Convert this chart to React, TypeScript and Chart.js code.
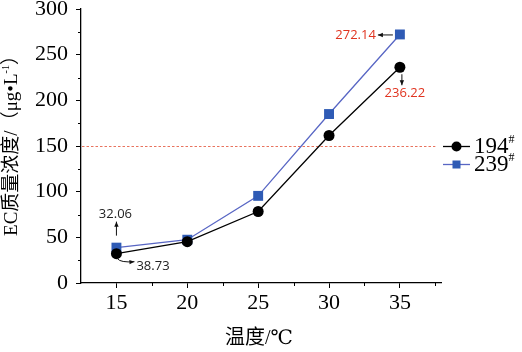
import { useEffect, useRef } from 'react';
import { Chart, registerables } from 'chart.js';
Chart.register(...registerables);

const temps = [15, 20, 25, 30, 35];
const s194 = [32.06, 45.2, 78.3, 161.5, 236.22];
const s239 = [38.73, 47.4, 95.4, 185.0, 272.14];
const xTicks = [15, 20, 25, 30, 35];
const xMinor = [17.5, 22.5, 27.5, 32.5, 37.5];
const yMinor = [25, 75, 125, 175, 225, 275];
const seriesNames = ['194', '239'];
const refLine = 150;

const SERIF = '"Liberation Serif", "Times New Roman", "DejaVu Serif", "Noto Sans CJK SC", serif';
const SANS = '"Open Sans", "Noto Sans", sans-serif';
const BLUE = '#2f5bb5';
const BLUE_LINE = '#5866c4';
const RED = '#e0331f';

function arrow(ctx: CanvasRenderingContext2D, x1: number, y1: number, x2: number, y2: number, cx?: number, cy?: number) {
  ctx.save();
  ctx.strokeStyle = '#111';
  ctx.fillStyle = '#111';
  ctx.lineWidth = 1;
  ctx.beginPath();
  ctx.moveTo(x1, y1);
  if (cx !== undefined && cy !== undefined) ctx.quadraticCurveTo(cx, cy, x2, y2);
  else ctx.lineTo(x2, y2);
  ctx.stroke();
  const fx = cx !== undefined ? cx : x1;
  const fy = cy !== undefined ? cy : y1;
  const a = Math.atan2(y2 - fy, x2 - fx);
  const L = 5, W = 2.2;
  ctx.beginPath();
  ctx.moveTo(x2, y2);
  ctx.lineTo(x2 - L * Math.cos(a) + W * Math.sin(a), y2 - L * Math.sin(a) - W * Math.cos(a));
  ctx.lineTo(x2 - L * Math.cos(a) - W * Math.sin(a), y2 - L * Math.sin(a) + W * Math.cos(a));
  ctx.closePath();
  ctx.fill();
  ctx.restore();
}

const deco = {
  id: 'deco',
  beforeDatasetsDraw(chart: any) {
    const { ctx, chartArea, scales } = chart;
    const x = scales.x, y = scales.y;
    ctx.save();
    ctx.strokeStyle = '#e8735e';
    ctx.lineWidth = 1;
    ctx.setLineDash([2.5, 2]);
    ctx.beginPath();
    const yy = Math.round(y.getPixelForValue(refLine)) + 0.5;
    ctx.moveTo(chartArea.left + 1, yy);
    ctx.lineTo(x.getPixelForValue(37.5), yy);
    ctx.stroke();
    ctx.setLineDash([]);
    ctx.strokeStyle = '#000';
    ctx.lineWidth = 1;
    ctx.beginPath();
    yMinor.forEach(v => {
      const p = Math.round(y.getPixelForValue(v)) + 0.5;
      ctx.moveTo(chartArea.left - 3, p);
      ctx.lineTo(chartArea.left, p);
    });
    xMinor.forEach(v => {
      const p = Math.round(x.getPixelForValue(v)) + 0.5;
      ctx.moveTo(p, chartArea.bottom);
      ctx.lineTo(p, chartArea.bottom + 3);
    });
    ctx.stroke();
    ctx.restore();
  },
  afterDraw(chart: any) {
    const { ctx, scales } = chart;
    const x = scales.x, y = scales.y;
    ctx.save();
    ctx.save();
    ctx.translate(12, 141);
    ctx.rotate(-Math.PI / 2);
    ctx.fillStyle = '#000';
    ctx.textBaseline = 'middle';
    const fMain = '19px ' + SERIF;
    const fSup = '10px ' + SERIF;
    const parts: [string, string, number][] = [
      ['EC质量浓度/（μg•L', fMain, 0],
      ['-1', fSup, -6],
      ['）', fMain, 0],
    ];
    let total = 0;
    parts.forEach(([t, f]) => { ctx.font = f; total += ctx.measureText(t).width; });
    let cx = -total / 2;
    ctx.textAlign = 'left';
    parts.forEach(([t, f, dy]) => { ctx.font = f; ctx.fillText(t, cx, dy); cx += ctx.measureText(t).width; });
    ctx.restore();
    ctx.fillStyle = '#000';
    ctx.font = '20px ' + SERIF;
    ctx.textAlign = 'center';
    ctx.textBaseline = 'middle';
    ctx.fillText('温度/℃', 259, 339);

    const legendY = [146, 164];
    seriesNames.forEach((name, i) => {
      const ly = legendY[i];
      ctx.strokeStyle = i === 0 ? '#000' : BLUE_LINE;
      ctx.lineWidth = 1.3;
      ctx.beginPath();
      ctx.moveTo(443, ly + 0.5);
      ctx.lineTo(470, ly + 0.5);
      ctx.stroke();
      if (i === 0) {
        ctx.fillStyle = '#000';
        ctx.beginPath();
        ctx.arc(456.5, ly + 0.5, 5, 0, Math.PI * 2);
        ctx.fill();
      } else {
        ctx.fillStyle = BLUE;
        ctx.fillRect(452.5, ly - 3.5, 8, 8);
      }
      ctx.fillStyle = '#000';
      ctx.textAlign = 'left';
      ctx.textBaseline = 'middle';
      ctx.font = '23px ' + SERIF;
      ctx.fillText(name, 474, ly + 1);
      const w = ctx.measureText(name).width;
      ctx.font = '12px ' + SERIF;
      ctx.fillText('#', 474 + w, ly - 6);
    });

    ctx.font = '13px ' + SANS;
    ctx.textBaseline = 'middle';
    const bx0 = x.getPixelForValue(temps[0]);
    const by0 = y.getPixelForValue(s239[0]);
    const kx0 = x.getPixelForValue(temps[0]);
    const ky0 = y.getPixelForValue(s194[0]);
    arrow(ctx, bx0, by0 - 12, bx0, by0 - 26);
    ctx.fillStyle = '#222';
    ctx.textAlign = 'center';
    ctx.fillText(s194[0].toFixed(2), bx0 - 1, by0 - 33);
    arrow(ctx, kx0 + 1, ky0 + 5, kx0 + 18, ky0 + 8, kx0 + 4, ky0 + 9);
    ctx.fillStyle = '#222';
    ctx.textAlign = 'left';
    ctx.fillText(s239[0].toFixed(2), kx0 + 20, ky0 + 13);

    const bx4 = x.getPixelForValue(temps[4]);
    const by4 = y.getPixelForValue(s239[4]);
    const ky4 = y.getPixelForValue(s194[4]);
    arrow(ctx, bx4 - 7, by4 + 0.5, bx4 - 22, by4 + 0.5);
    ctx.fillStyle = RED;
    ctx.textAlign = 'right';
    ctx.fillText(s239[4].toFixed(2), bx4 - 24, by4 + 1);
    arrow(ctx, bx4 + 2, ky4 + 7, bx4 + 2, ky4 + 18);
    ctx.fillStyle = RED;
    ctx.textAlign = 'center';
    ctx.fillText(s194[4].toFixed(2), bx4 + 5, ky4 + 26);
    ctx.restore();
  },
};

export default function App() {
  const ref = useRef<HTMLCanvasElement>(null);
  useEffect(() => {
    document.body.style.margin = '0';
    const chart = new Chart(ref.current!, {
      type: 'line',
      data: {
        datasets: [
          {
            label: '194#',
            data: temps.map((t, i) => ({ x: t, y: s194[i] })),
            borderColor: '#000',
            backgroundColor: '#000',
            borderWidth: 1.3,
            pointStyle: 'circle',
            pointRadius: 5.5,
            pointBorderWidth: 0,
            clip: false as any,
          },
          {
            label: '239#',
            data: temps.map((t, i) => ({ x: t, y: s239[i] })),
            borderColor: BLUE_LINE,
            backgroundColor: BLUE,
            borderWidth: 1.3,
            pointStyle: 'rect',
            pointRadius: 7,
            pointBorderWidth: 0,
            clip: false as any,
          },
        ],
      },
      options: {
        responsive: false,
        animation: false,
        layout: { padding: { top: 9, right: 81, left: 0, bottom: 0 } },
        plugins: { legend: { display: false }, tooltip: { enabled: false } },
        scales: {
          x: {
            type: 'linear',
            min: 12.5,
            max: 37.9,
            afterBuildTicks: (s: any) => { s.ticks = xTicks.map(v => ({ value: v })); },
            afterFit: (s: any) => { s.height = 69; s.paddingLeft = 0; s.paddingRight = 0; },
            grid: { display: true, drawOnChartArea: false, drawTicks: true, tickLength: 5, color: '#000' },
            border: { display: true, color: '#000', width: 1.3 },
            ticks: { color: '#000', font: { family: SERIF, size: 22 }, padding: 2, maxRotation: 0 },
          },
          y: {
            min: 0,
            max: 300,
            afterFit: (s: any) => { s.width = 81; s.paddingTop = 0; s.paddingBottom = 0; },
            grid: { display: true, drawOnChartArea: false, drawTicks: true, tickLength: 5, color: '#000' },
            border: { display: true, color: '#000', width: 1.3 },
            ticks: { stepSize: 50, color: '#000', font: { family: SERIF, size: 22 }, padding: 8 },
          },
        },
      },
      plugins: [deco],
    });
    return () => chart.destroy();
  }, []);
  return <canvas ref={ref} width={522} height={352} style={{ display: 'block' }} />;
}
